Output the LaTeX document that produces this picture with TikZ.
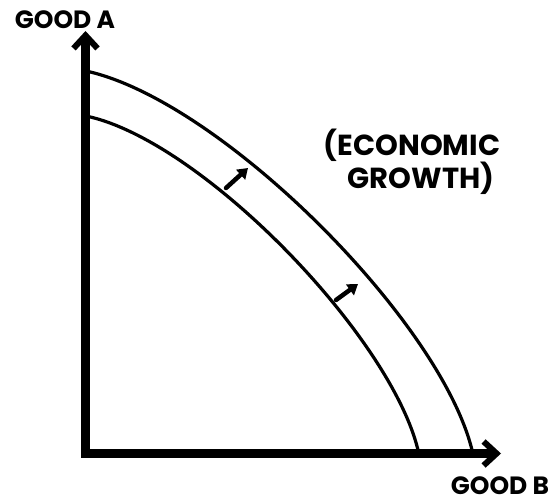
\documentclass[tikz,border=0pt]{standalone}
\usepackage{fontspec}
\setmainfont{Poppins}
\usetikzlibrary{arrows.meta}
\begin{document}
\begin{tikzpicture}[x=1pt,y=-1pt,
  axis/.style={line width=8.5pt,-{Straight Barb[length=13pt,width=24pt,line width=6pt]}},
  ppf/.style={line width=3.2pt,line cap=round},
  growarrow/.style={line width=4.5pt,line cap=round,-{Triangle[length=10pt,width=13pt]}},
  lbl/.style={font=\bfseries\fontsize{25}{25}\selectfont,inner sep=0pt},
  note/.style={font=\bfseries\fontsize{29}{32}\selectfont,inner sep=0pt,align=center}]
\useasboundingbox (0,0) rectangle (557,503);
\coordinate (o) at (85.5,453.5);
\coordinate (ytop) at (85.5,31);
\coordinate (xend) at (501,453.5);
\draw[axis] ([yshift=4.25pt]o) -- (ytop);
\draw[axis] ([xshift=-4.25pt]o) -- (xend);
\coordinate (oa) at (86,71);
\coordinate (ob) at (472,450);
\coordinate (ia) at (86,116);
\coordinate (ib) at (418,450);
\draw[ppf] (oa) .. controls (220,100) and (440,320) .. (ob);
\draw[ppf] (ia) .. controls (201,140) and (390,335) .. (ib);
\coordinate (s1a) at (226,188);
\coordinate (s1b) at (248,168);
\coordinate (s2a) at (336,300);
\coordinate (s2b) at (358,284);
\draw[growarrow] (s1a) -- (s1b);
\draw[growarrow] (s2a) -- (s2b);
\node[lbl] (ga) at (65,20) {GOOD A};
\node[lbl] (gb) at (500,486) {GOOD B};
\node[note] (eg) at (412,162) {(ECONOMIC\\\hspace*{18pt}GROWTH)};
\end{tikzpicture}
\end{document}
